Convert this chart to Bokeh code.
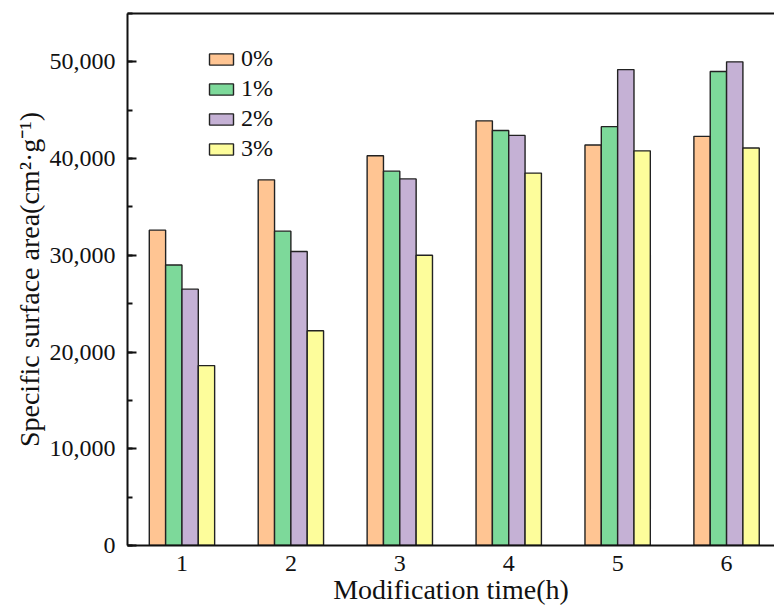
from bokeh.plotting import figure
from bokeh.models import (ColumnDataSource, Range1d, LinearAxis, FixedTicker,
                          SingleIntervalTicker, NumeralTickFormatter, Legend, LegendItem)
from bokeh.transform import dodge
from bokeh.embed import file_html
from bokeh.resources import INLINE

# Modification time (h) and specific surface area for each dosage
hours = [1, 2, 3, 4, 5, 6]
dose_labels = ["0%", "1%", "2%", "3%"]
ssa_0 = [32600, 37800, 40300, 43900, 41400, 42300]
ssa_1 = [29000, 32500, 38700, 42900, 43300, 49000]
ssa_2 = [26500, 30400, 37900, 42400, 49200, 50000]
ssa_3 = [18600, 22200, 30000, 38500, 40800, 41100]
colors = ["#FFC593", "#7DD99A", "#C5B1D5", "#FDFD9B"]

FONT = "Liberation Serif"
INK = "#111111"

source = ColumnDataSource(dict(x=hours, s0=ssa_0, s1=ssa_1, s2=ssa_2, s3=ssa_3))

p = figure(width=774, height=610, output_backend="svg", toolbar_location=None,
           x_range=Range1d(0.5, 6.44), y_range=Range1d(0, 55000),
           min_border_left=127, min_border_right=0, min_border_top=13,
           min_border_bottom=65, x_axis_location=None, y_axis_location=None)
p.grid.visible = False
p.outline_line_color = None
p.background_fill_color = "white"
p.border_fill_color = "white"

offsets = [-0.225, -0.075, 0.075, 0.225]
renderers = []
for i, (col, off) in enumerate(zip(["s0", "s1", "s2", "s3"], offsets)):
    r = p.vbar(x=dodge("x", off, range=p.x_range), top=col, width=0.15, bottom=0,
               source=source, fill_color=colors[i], line_color="#222222", line_width=1.4)
    renderers.append(r)

# Axes
yaxis = LinearAxis(ticker=SingleIntervalTicker(interval=10000, num_minor_ticks=2),
                   formatter=NumeralTickFormatter(format="0,0"),
                   axis_label="Specific surface area(cm²·g⁻¹)")
yaxis.axis_line_width = 2
yaxis.axis_line_color = INK
yaxis.major_tick_in = 9
yaxis.major_tick_out = 0
yaxis.minor_tick_in = 5
yaxis.minor_tick_out = 0
yaxis.major_tick_line_width = 2
yaxis.minor_tick_line_width = 2
yaxis.major_tick_line_color = INK
yaxis.minor_tick_line_color = INK
yaxis.major_label_standoff = 12
yaxis.major_label_text_font = FONT
yaxis.major_label_text_font_size = "24px"
yaxis.major_label_text_color = INK
yaxis.axis_label_text_font = FONT
yaxis.axis_label_text_font_style = "normal"
yaxis.axis_label_text_font_size = "28px"
yaxis.axis_label_text_color = INK
yaxis.axis_label_standoff = 2
p.add_layout(yaxis, "left")

xaxis = LinearAxis(ticker=FixedTicker(ticks=hours), axis_label="Modification time(h)")
xaxis.axis_line_width = 2
xaxis.axis_line_color = INK
xaxis.major_tick_in = 0
xaxis.major_tick_out = 0
xaxis.minor_tick_line_color = None
xaxis.major_label_standoff = 10
xaxis.major_label_text_font = FONT
xaxis.major_label_text_font_size = "24px"
xaxis.major_label_text_color = INK
xaxis.axis_label_text_font = FONT
xaxis.axis_label_text_font_style = "normal"
xaxis.axis_label_text_font_size = "28px"
xaxis.axis_label_text_color = INK
xaxis.axis_label_standoff = 0
p.add_layout(xaxis, "below")

# Top border line
top = LinearAxis(ticker=FixedTicker(ticks=[]))
top.axis_line_width = 2
top.axis_line_color = INK
top.major_tick_line_color = None
top.minor_tick_line_color = None
p.add_layout(top, "above")

legend = Legend(items=[LegendItem(label=lab, renderers=[r]) for lab, r in zip(dose_labels, renderers)],
                location=(79, 383))
legend.border_line_color = None
legend.background_fill_alpha = 0
legend.padding = 0
legend.margin = 0
legend.spacing = 3
legend.glyph_width = 30
legend.glyph_height = 14
legend.label_text_font = FONT
legend.label_text_font_size = "24px"
legend.label_text_color = INK
legend.label_standoff = 5
p.add_layout(legend, "center")

open("out.html", "w").write(file_html(p, INLINE))
